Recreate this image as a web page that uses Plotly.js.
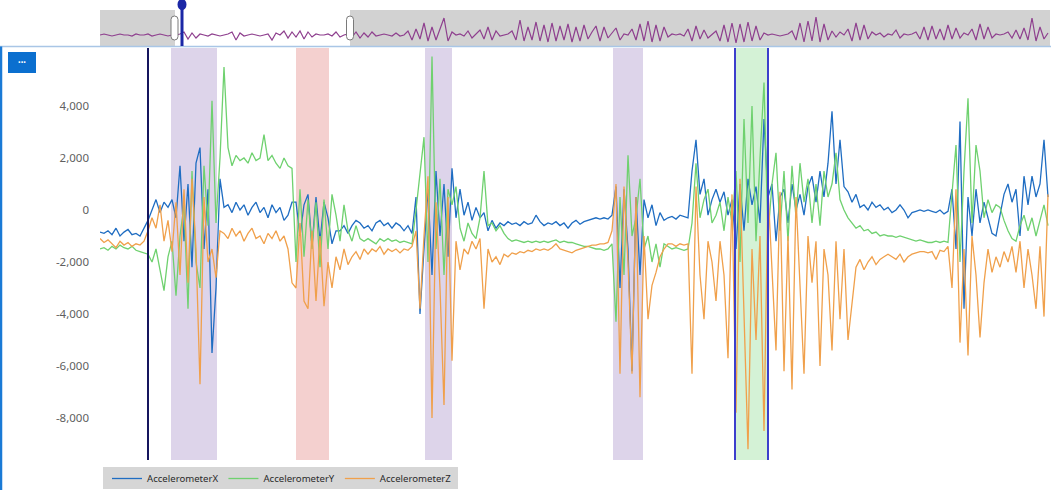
<!DOCTYPE html>
<html>
<head>
<meta charset="utf-8">
<script src="https://cdn.plot.ly/plotly-3.0.1.min.js"></script>
<style>
html,body{margin:0;padding:0;background:#fff;overflow:hidden;}
#chart{width:1051px;height:490px;}
</style>
</head>
<body>
<div id="chart"></div>
<script>
// ---- data (one sample per step) ----
const seriesNames = ["AccelerometerX", "AccelerometerY", "AccelerometerZ"];
const accelX = [-850,-900,-800,-950,-700,-1000,-850,-750,-950,-900,-1000,-700,
-400,0,400,-100,300,100,400,-300,1700,-1200,1000,-2200,1800,2400,-1500,800,-5500,-3000,1200,100,200,
-100,300,0,200,-200,100,300,-100,100,-300,200,-100,100,-400,-200,300,
300,-1000,200,600,-1400,500,-1200,300,-300,
-1300,-800,-800,-600,-900,-600,-400,-500,-700,-600,-800,-500,-400,-600,-500,-700,-500,-600,-800,-600,-900,
500,-4000,-1500,800,-2500,1500,-1000,1000,-1800,1600,-300,800,-200,300,-400,100,-300,-100,-800,
-400,-700,-500,-600,-450,-550,-500,-600,-450,-550,-500,-200,-450,-600,-500,-550,-450,-600,-500,-700,-500,-400,-550,-450,-400,-350,-300,-350,-300,-350,
-200,900,-3000,800,-1500,-6200,500,-2500,400,-300,200,-600,-100,-400,-300,-250,-350,-200,-250,-300,
1500,2700,600,1200,-200,400,800,300,700,-200,400,
-1500,1000,-800,1200,200,900,-500,3500,500,
1000,-1200,500,800,-500,1000,0,600,-200,900,1300,300,1500,500,1800,3800,1000,2700,900,700,
300,600,100,200,0,300,100,200,0,100,-100,0,200,0,-300,-100,-50,0,-50,0,-50,-100,0,-150,-50,
800,-1500,3400,-3800,500,-1000,800,-500,300,-300,-900,-1000,-200,600,1000,300,800,-1000,1300,200,1300,500,1000,2700,500];
const accelY = [-1500,-1450,-1550,-1400,-1500,-1350,-1450,-1500,-1400,-1550,-1600,-1650,
-1700,-2000,-1500,-2300,-3100,-1800,-1200,-3300,-1000,200,-3800,1500,-2000,-3000,1700,-600,4200,-500,2000,5500,2400,
1700,2100,1900,2000,1800,2200,1900,2000,2900,1900,2100,1800,1600,2000,1700,1600,
-2000,800,-1800,400,-1500,300,-2200,400,-1500,
600,-200,-1200,200,-800,-1200,-600,-1100,-1200,-1100,-1200,-1300,-1100,-1200,-1100,-1200,-1150,-1250,-1200,-1250,-1300,
0,1500,2800,-2000,5900,-1500,1200,-2500,800,200,900,-700,-1200,-500,-900,-1100,-300,1500,-600,
-500,-800,-600,-900,-1100,-1200,-1150,-1200,-1250,-1200,-1250,-1200,-1250,-1200,-1250,-1200,-1150,-1250,-1200,-1250,-1250,-1300,-1350,-1400,-1400,-1450,-1500,-1500,-1550,-1500,
-1300,-4300,500,-2500,2100,-1000,-300,1200,-1500,-1000,-2000,-1300,-2200,-1300,-1400,-1500,-1450,-1500,-1550,-1500,
-500,1800,-300,400,800,-500,-200,300,-800,500,-500,
1500,-2000,3500,-500,4000,-1200,2000,4900,-1000,
1000,2200,-800,1500,-1200,1700,-300,1800,300,1200,-500,1000,-600,1500,500,1000,2200,400,0,-300,
-500,-700,-600,-800,-750,-900,-850,-1000,-950,-1000,-1000,-1050,-1000,-1050,-1100,-1150,-1200,-1150,-1200,-1250,-1250,-1200,-1250,-1200,-1250,
500,2500,-2000,1500,4300,-500,2500,1500,-300,400,-100,200,100,-400,-800,-1100,-1200,-600,-200,-800,-300,-1000,-400,200,-600];
const accelZ = [-1100,-1250,-1150,-1300,-1450,-1200,-1350,-1250,-1400,-1300,-1350,-1200,
-800,-300,-700,200,-1200,-400,-1600,300,-2500,800,-2800,1200,-1500,-6700,500,-2000,-1500,-2600,-800,-900,-1100,
-700,-1000,-800,-1200,-900,-700,-1100,-1000,-1300,-900,-1100,-800,-1200,-1000,-1500,-2800,
-3000,-500,-3500,-3800,-800,-3500,-1000,-3700,-2000,
-3000,-1800,-2300,-1500,-2100,-1800,-1600,-1900,-1500,-1700,-1500,-1600,-1400,-1700,-1500,-1600,-1500,-1650,-1500,-1550,-1400,
-800,-3800,-1000,1300,-8000,300,-3000,-7500,500,-5800,-1200,-2300,-1500,-1700,-1200,-1500,-1100,-3800,-1500,
-2000,-1800,-2100,-1700,-1800,-1650,-1700,-1600,-1650,-1550,-1600,-1500,-1550,-1500,-1550,-1450,-1300,-1500,-1550,-1600,-1650,-1550,-1500,-1450,-1400,-1350,-1350,-1300,-1300,-1250,
-800,1000,-6300,900,-2000,-6300,500,-7200,-1000,-4200,-2900,-2400,-1800,-1500,-1300,-1300,-1400,-1300,-1350,-1300,
-6300,900,-2500,-4200,-1200,-2000,-3500,-1200,-2500,-5700,600,
-7800,1200,-4000,-9200,-1500,-5000,-1000,-8500,800,
-2500,-5400,700,-6200,-1000,-6900,500,-3000,-6300,-1000,-2800,-1200,-6000,-1500,-2500,-5400,-1200,-4200,-1500,-5000,
-3500,-2200,-1900,-2300,-2000,-1800,-2100,-1900,-1800,-1700,-1800,-1900,-1700,-2000,-1800,-1700,-1650,-1600,-1600,-1650,-1600,-1900,-1550,-1600,-1400,
-3000,800,-5100,-1500,-5600,-1000,-2500,-4900,-2800,-1500,-2400,-1800,-2200,-1600,-2000,-1400,-2400,-1200,-3000,-1500,-2500,-3800,-1400,-4100,600];
// overview strip signal (relative units)
const overview = [0,1,0,-1,0,1,0,0,-1,1,0,0,1,-1,0,1,0,-1,0,
0,1,3,-4,2,-3,1,0,-1,1,0,-1,0,1,3,-5,2,-1,0,1,0,-1,0,1,-5,2,0,4,-3,3,-2,4,-4,3,-2,1,0,0,1,-1,3,-2,0,1,
-2,3,-3,2,-2,3,-1,0,1,0,-1,2,-1,0,4,-5,6,-4,12,-6,8,-5,6,17,-6,3,0,1,-1,4,-3,1,5,-4,8,-5,4,-1,0,1,
4,-5,15,-6,8,-5,13,-6,10,-7,12,-6,9,-5,11,-7,8,-6,10,-4,3,9,-6,8,-3,2,7,-5,1,0,6,-5,11,-6,14,-7,10,-6,8,-2,
1,0,1,-1,6,-6,9,-4,5,-3,1,4,-6,10,-7,12,-8,11,-7,13,-6,9,-5,2,0,1,0,-1,0,1,4,-5,12,-7,14,-6,18,-7,11,-5,
4,-2,3,0,6,-6,12,-5,10,-4,3,0,2,-2,1,0,5,-3,1,0,1,3,-4,8,-5,9,-4,6,-5,10,-4,7,-3,2,0,6,-5,11,-4,8,-3,
1,0,1,3,-3,5,-4,7,-5,17,-6,8,-4,2];
const yTickVals = [-8000, -6000, -4000, -2000, 0, 2000, 4000];
const yTickText = ["-8,000", "-6,000", "-4,000", "-2,000", "0", "2,000", "4,000"];

// ---- geometry helpers ----
const W = 1051, H = 490;
const px = v => v / W;              // pixel x -> paper
const py = v => (H - v) / H;        // pixel y -> paper
const step = 4, x0px = 100;
const dx = v => (v - x0px) / step;  // pixel x -> data index
const idx = accelX.map((_, i) => i);
const oidx = overview.map((_, i) => i);

const colors = {X: "#1f6dc2", Y: "#6fd16f", Z: "#f0a04b"};

const traces = [
  {x: idx, y: accelX, name: seriesNames[0], type: "scatter", mode: "lines",
   line: {color: colors.X, width: 1.3}, xaxis: "x", yaxis: "y"},
  {x: idx, y: accelY, name: seriesNames[1], type: "scatter", mode: "lines",
   line: {color: colors.Y, width: 1.3}, xaxis: "x", yaxis: "y"},
  {x: idx, y: accelZ, name: seriesNames[2], type: "scatter", mode: "lines",
   line: {color: colors.Z, width: 1.3}, xaxis: "x", yaxis: "y"},
  {x: oidx, y: overview, name: "overview", type: "scatter", mode: "lines",
   line: {color: "#8e3f8e", width: 1.2}, xaxis: "x2", yaxis: "y2", showlegend: false}
];

const mainY0 = py(460), mainY1 = py(48);
const band = (a, b, color) => ({type: "rect", xref: "x", yref: "paper",
  x0: dx(a), x1: dx(b), y0: mainY0, y1: mainY1, fillcolor: color, line: {width: 0}, layer: "below"});
const vline = (a, color, w) => ({type: "line", xref: "x", yref: "paper",
  x0: dx(a), x1: dx(a), y0: mainY0, y1: mainY1, line: {color: color, width: w}});
const prect = (x0, y0, x1, y1, fill, extra) => Object.assign({type: "rect", xref: "paper", yref: "paper",
  x0: px(x0), x1: px(x1), y0: py(y1), y1: py(y0), fillcolor: fill, line: {width: 0}}, extra || {});
const handle = (cx) => {
  const l = px(cx - 3.5), r = px(cx + 3.5), t = py(16), b = py(40), ry = 3.5 / H, rx = 3.5 / W;
  return {type: "path", xref: "paper", yref: "paper",
    path: `M ${l} ${t - ry} Q ${l} ${t} ${l + rx} ${t} L ${r - rx} ${t} Q ${r} ${t} ${r} ${t - ry} ` +
          `L ${r} ${b + ry} Q ${r} ${b} ${r - rx} ${b} L ${l + rx} ${b} Q ${l} ${b} ${l} ${b + ry} Z`,
    fillcolor: "#ffffff", line: {color: "#7a7a7a", width: 1}};
};

const shapes = [
  // overview background (outside selected window)
  prect(100, 10, 175, 46, "#d2d2d2", {layer: "below"}),
  prect(350, 10, 1050, 46, "#d2d2d2", {layer: "below"}),
  // main bands
  band(171, 217, "#ddd4ea"),
  band(296, 329, "#f4d0cf"),
  band(425, 452, "#ddd4ea"),
  band(613, 643, "#ddd4ea"),
  band(735, 768, "#d4f2d6"),
  vline(148, "#15155e", 2),
  vline(735, "#3c3fcc", 2),
  vline(768, "#3c3fcc", 2),
  // frame
  {type: "line", xref: "paper", yref: "paper", x0: 0, x1: 1, y0: py(46.5), y1: py(46.5),
   line: {color: "#a9c6e6", width: 1.5}},
  {type: "line", xref: "paper", yref: "paper", x0: px(1), x1: px(1), y0: 0, y1: py(46.5),
   line: {color: "#1a7ad6", width: 2.5}},
  // menu button
  prect(8, 52, 36, 73, "#0b6fcf"),
  // legend box
  prect(103, 467, 458, 489, "#d6d6d6", {layer: "below"}),
  // overview handles
  handle(174.5),
  handle(350),
  // overview marker
  {type: "line", xref: "paper", yref: "paper", x0: px(182), x1: px(182), y0: py(46), y1: py(6),
   line: {color: "#1b27a6", width: 3}},
  {type: "circle", xref: "paper", yref: "paper", x0: px(177.5), x1: px(186.5), y0: py(10), y1: py(-1),
   fillcolor: "#1b27a6", line: {width: 0}}
];

const layout = {
  width: W, height: H,
  margin: {l: 0, r: 0, t: 0, b: 0, autoexpand: false},
  paper_bgcolor: "#ffffff", plot_bgcolor: "rgba(0,0,0,0)",
  font: {family: "Noto Sans, Open Sans, sans-serif", size: 11, color: "#666"},
  showlegend: true,
  hovermode: false,
  xaxis: {domain: [px(100), px(1050)], range: [0, dx(1050)], showgrid: false, zeroline: false,
          showline: false, showticklabels: false, ticks: "", fixedrange: true},
  yaxis: {domain: [mainY0, mainY1], range: [-9615, 6230], showgrid: false, zeroline: false,
          showline: false, ticks: "", tickvals: yTickVals, ticktext: yTickText,
          ticklabelstandoff: 10, tickfont: {size: 11.5, color: "#5f5f5f"}, fixedrange: true},
  xaxis2: {domain: [px(100), px(1050)], range: [0, dx(1050)], anchor: "y2", showgrid: false,
           zeroline: false, showline: false, showticklabels: false, ticks: "", fixedrange: true},
  yaxis2: {domain: [py(46), py(10)], range: [-11, 25], anchor: "x2", showgrid: false,
           zeroline: false, showline: false, showticklabels: false, ticks: "", fixedrange: true},
  shapes: shapes,
  annotations: [
    {xref: "paper", yref: "paper", x: px(22), y: py(62.5), text: "•••", showarrow: false,
     font: {color: "#ffffff", size: 7}, xanchor: "center", yanchor: "middle"}
  ],
  legend: {orientation: "h", x: px(107), y: py(478.5), xanchor: "left", yanchor: "middle",
           bgcolor: "rgba(0,0,0,0)", borderwidth: 0, font: {size: 9.6, color: "#2a2a2a"},
           itemclick: false, itemdoubleclick: false, tracegroupgap: 0}
};

Plotly.newPlot("chart", traces, layout, {displayModeBar: false, staticPlot: true});
</script>
</body>
</html>
